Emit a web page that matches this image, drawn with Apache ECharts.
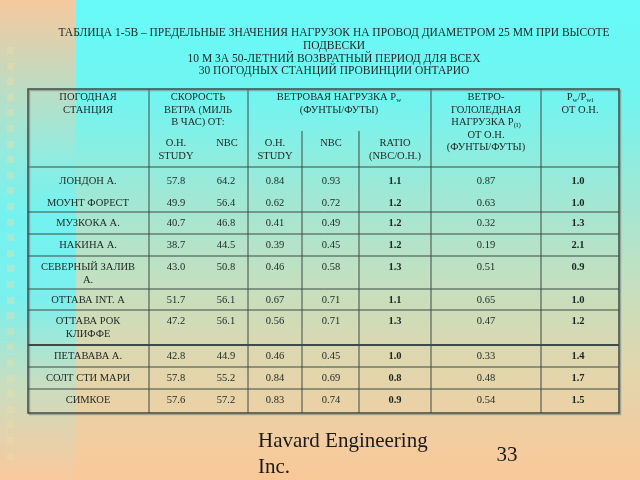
<!DOCTYPE html>
<html><head><meta charset="utf-8">
<script src="https://cdn.jsdelivr.net/npm/echarts@6/dist/echarts.min.js"></script>
<style>html,body{margin:0;padding:0;width:640px;height:480px;overflow:hidden;background:#fff}#c{width:640px;height:480px}</style>
</head><body><div id="c"></div>
<script>
// ---------- DATA ----------
const titleLines = [
  'ТАБЛИЦА 1-5B – ПРЕДЕЛЬНЫЕ ЗНАЧЕНИЯ НАГРУЗОК НА ПРОВОД ДИАМЕТРОМ 25 ММ ПРИ ВЫСОТЕ',
  'ПОДВЕСКИ',
  '10 М ЗА 50-ЛЕТНИЙ ВОЗВРАТНЫЙ ПЕРИОД ДЛЯ ВСЕХ',
  '30 ПОГОДНЫХ СТАНЦИЙ ПРОВИНЦИИ ОНТАРИО'
];
const headerTop = [
  'ПОГОДНАЯ\nСТАНЦИЯ',
  'СКОРОСТЬ\nВЕТРА (МИЛЬ\nВ ЧАС) ОТ:',
  'ВЕТРОВАЯ НАГРУЗКА P{s|w}\n(ФУНТЫ/ФУТЫ)',
  'ВЕТРО-\nГОЛОЛЕДНАЯ\nНАГРУЗКА P{s|(I)}\nОТ О.Н.\n(ФУНТЫ/ФУТЫ)',
  'P{s|w}/P{s|wi}\nОТ О.Н.'
];
const headerSub = ['О.Н.\nSTUDY', 'NBC', 'О.Н.\nSTUDY', 'NBC', 'RATIO\n(NBC/O.H.)'];
const stations = ['ЛОНДОН А.', 'МОУНТ ФОРЕСТ', 'МУЗКОКА А.', 'НАКИНА А.', 'СЕВЕРНЫЙ ЗАЛИВ\nА.',
  'ОТТАВА INT. А', 'ОТТАВА РОК\nКЛИФФЕ', 'ПЕТАВАВА А.', 'СОЛТ СТИ МАРИ', 'СИМКОЕ'];
const speedOH  = [57.8, 49.9, 40.7, 38.7, 43.0, 51.7, 47.2, 42.8, 57.8, 57.6];
const speedNBC = [64.2, 56.4, 46.8, 44.5, 50.8, 56.1, 56.1, 44.9, 55.2, 57.2];
const loadOH   = [0.84, 0.62, 0.41, 0.39, 0.46, 0.67, 0.56, 0.46, 0.84, 0.83];
const loadNBC  = [0.93, 0.72, 0.49, 0.45, 0.58, 0.71, 0.71, 0.45, 0.69, 0.74];
const loadRatio = [1.1, 1.2, 1.2, 1.2, 1.3, 1.1, 1.3, 1.0, 0.8, 0.9];
const iceLoad  = [0.87, 0.63, 0.32, 0.19, 0.51, 0.65, 0.47, 0.33, 0.48, 0.54];
const windIceRatio = [1.0, 1.0, 1.3, 2.1, 0.9, 1.0, 1.2, 1.4, 1.7, 1.5];
const footerText = 'Havard Engineering\nInc.';
const pageNumber = '33';

// ---------- LAYOUT ----------
const colEdges = [28, 149, 248, 302, 359, 431, 541, 619];
const subStartCols = [3, 4];
const cellX = [88, 176, 226, 275, 331, 395, 486, 578];
const headTopX = [88, 198, 339, 486, 580];
const headSubX = [176, 227, 275, 331, 395];
const tableTop = 89, headBottom = 167, subTop = 131, tableBottom = 413;
const rowTops = [170, 192, 212, 234, 256, 289, 310, 345, 367, 389];
const noLineRows = [0, 1];
const thickLineRows = [7];
const boldCols = [5, 7];
const FONT = '"Liberation Serif", "DejaVu Serif", serif';
const TXT = '#1c2622';
const LINE = '#3e4a45';
const LH = 12.5;
const rich = { s: { fontSize: 7, fontFamily: FONT, fill: TXT, verticalAlign: 'bottom', padding: [5, 0, 0, 0] } };

function txt(api, x, y, text, bold) {
  const p = api.coord([x, y]);
  return { type: 'text', x: p[0], y: p[1], style: {
    text: text, fill: TXT, fontFamily: FONT, fontSize: 10.5, fontWeight: bold ? 'bold' : 'normal',
    align: 'center', verticalAlign: 'top', lineHeight: LH, rich: rich } };
}
function seg(api, x1, y1, x2, y2, w, c) {
  const a = api.coord([x1, y1]), b = api.coord([x2, y2]);
  return { type: 'line', shape: { x1: a[0], y1: a[1], x2: b[0], y2: b[1] }, style: { stroke: c || LINE, lineWidth: w || 1 } };
}

function renderFrame(params, api) {
  const ch = [];
  headerTop.forEach((t, k) => ch.push(txt(api, headTopX[k], 91, t)));
  headerSub.forEach((t, k) => ch.push(txt(api, headSubX[k], 137, t)));
  colEdges.forEach((x, k) => {
    if (k === 0 || k === colEdges.length - 1) return;
    ch.push(seg(api, x, subStartCols.indexOf(k) >= 0 ? subTop : tableTop, x, tableBottom, 1));
  });
  ch.push(seg(api, colEdges[0], headBottom, colEdges[colEdges.length - 1], headBottom, 1.2));
  const a = api.coord([colEdges[0], tableTop]), b = api.coord([colEdges[colEdges.length - 1], tableBottom]);
  ch.push({ type: 'rect', shape: { x: a[0] + 1.5, y: a[1] + 1.5, width: b[0] - a[0], height: b[1] - a[1] },
    style: { fill: 'none', stroke: 'rgba(120,130,125,0.6)', lineWidth: 1.5 } });
  ch.push({ type: 'rect', shape: { x: a[0], y: a[1], width: b[0] - a[0], height: b[1] - a[1] },
    style: { fill: 'none', stroke: LINE, lineWidth: 1.5 } });
  return { type: 'group', children: ch };
}

function f1(v) { return v.toFixed(1); }
function f2(v) { return v.toFixed(2); }

function renderRow(params, api) {
  const i = params.dataIndex;
  const top = rowTops[i];
  const vals = [stations[i], f1(speedOH[i]), f1(speedNBC[i]), f2(loadOH[i]), f2(loadNBC[i]),
    f1(loadRatio[i]), f2(iceLoad[i]), f1(windIceRatio[i])];
  const ch = vals.map((v, c) => txt(api, cellX[c], top + 5, v, boldCols.indexOf(c) >= 0));
  if (noLineRows.indexOf(i) < 0) {
    ch.push(seg(api, colEdges[0], top, colEdges[colEdges.length - 1], top, thickLineRows.indexOf(i) >= 0 ? 2 : 1));
  }
  return { type: 'group', children: ch };
}

// ---------- BACKGROUND ----------
const squares = [];
for (let y = 47; y < 465; y += 15.6) {
  squares.push({ type: 'rect', shape: { x: 7, y: Math.round(y), width: 7, height: 7 },
    style: { fill: 'rgba(236,222,165,0.42)' }, z: -9 });
}

const chart = echarts.init(document.getElementById('c'), null, { renderer: 'canvas' });
chart.setOption({
  animation: false,
  grid: { left: 0, right: 0, top: 0, bottom: 0 },
  xAxis: { type: 'value', min: 0, max: 640, show: false },
  yAxis: { type: 'value', min: 0, max: 480, inverse: true, show: false },
  graphic: [
    { type: 'rect', shape: { x: 0, y: 0, width: 640, height: 480 }, z: -10,
      style: { fill: new echarts.graphic.LinearGradient(0, 0, 0, 1, [
        { offset: 0, color: '#68FAF8' }, { offset: 0.2, color: '#70F5F1' }, { offset: 0.4, color: '#9EE8D6' },
        { offset: 0.6, color: '#C6DFBE' }, { offset: 0.8, color: '#E6D4AA' }, { offset: 1, color: '#FAC898' }]) } },
    { type: 'rect', shape: { x: 0, y: 0, width: 76, height: 480 }, z: -10,
      style: { fill: new echarts.graphic.LinearGradient(0, 0, 0, 1, [
        { offset: 0, color: '#F6C89E' }, { offset: 0.33, color: '#90ECE0' }, { offset: 0.45, color: '#74F2F0' },
        { offset: 0.62, color: '#7AF0EE' }, { offset: 0.8, color: '#C8DEC0' }, { offset: 1, color: '#FAC89C' }]) } },
    ...squares,
    { type: 'text', x: 334, y: 26.5, style: { text: titleLines.join('\n'), fill: '#1e2422', fontFamily: FONT,
      fontSize: 11.5, lineHeight: 12.8, align: 'center', verticalAlign: 'top' } },
    { type: 'text', x: 258, y: 428, style: { text: footerText, fill: '#1a1a1a', fontFamily: FONT,
      fontSize: 21, lineHeight: 26, align: 'left', verticalAlign: 'top' } },
    { type: 'text', x: 507, y: 455, style: { text: pageNumber, fill: '#1a1a1a', fontFamily: FONT,
      fontSize: 21, align: 'center', verticalAlign: 'middle' } }
  ],
  series: [
    { type: 'custom', coordinateSystem: 'cartesian2d', renderItem: renderFrame, data: [[0, 0]], silent: true },
    { type: 'custom', coordinateSystem: 'cartesian2d', renderItem: renderRow,
      data: stations.map((s, i) => [i, i]), silent: true }
  ]
});
</script>
</body></html>
